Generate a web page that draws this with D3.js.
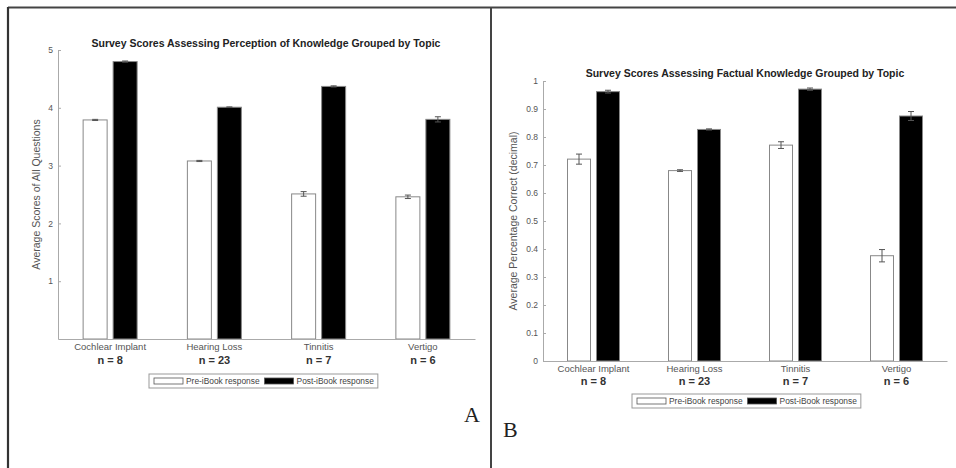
<!DOCTYPE html>
<html>
<head>
<meta charset="utf-8">
<script src="https://cdn.jsdelivr.net/npm/d3@7/dist/d3.min.js"></script>
<style>
  html, body { margin: 0; padding: 0; background: #fff; }
  svg { display: block; font-family: "Liberation Sans", Arial, sans-serif; }
</style>
</head>
<body>
<svg id="chart" width="956" height="468"></svg>
<script>
// ---------- DATA ----------
const categories = ["Cochlear Implant", "Hearing Loss", "Tinnitis", "Vertigo"];
const nLabels = ["n = 8", "n = 23", "n = 7", "n = 6"];
const seriesNames = ["Pre-iBook response", "Post-iBook response"];

const perceptionPre = [3.79, 3.08, 2.51, 2.46];
const perceptionPost = [4.80, 4.01, 4.37, 3.80];
const perceptionPreErr = [0.01, 0.01, 0.04, 0.03];
const perceptionPostErr = [0.01, 0.006, 0.01, 0.045];
const perceptionTicks = [1, 2, 3, 4, 5];

const factualPre = [0.721, 0.680, 0.771, 0.376];
const factualPost = [0.962, 0.827, 0.971, 0.875];
const factualPreErr = [0.018, 0.003, 0.012, 0.022];
const factualPostErr = [0.005, 0.002, 0.004, 0.016];
const factualTicks = [0, 0.1, 0.2, 0.3, 0.4, 0.5, 0.6, 0.7, 0.8, 0.9, 1];

const titles = [
  "Survey Scores Assessing Perception of Knowledge Grouped by Topic",
  "Survey Scores Assessing Factual Knowledge Grouped by Topic"
];
const yLabels = ["Average Scores of All Questions", "Average Percentage Correct (decimal)"];
const panelLetters = ["A", "B"];

// ---------- DRAW ----------
const svg = d3.select("#chart");

// frame lines
svg.append("line").attr("x1", 8).attr("x2", 956).attr("y1", 7.5).attr("y2", 7.5)
  .attr("stroke", "#444").attr("stroke-width", 2);
svg.append("line").attr("x1", 8).attr("x2", 8).attr("y1", 7).attr("y2", 468)
  .attr("stroke", "#333").attr("stroke-width", 2.2);
svg.append("line").attr("x1", 491).attr("x2", 491).attr("y1", 7).attr("y2", 468)
  .attr("stroke", "#444").attr("stroke-width", 2);

const panels = [
  {
    pre: perceptionPre, post: perceptionPost, preErr: perceptionPreErr, postErr: perceptionPostErr,
    ticks: perceptionTicks, domain: [0, 5], fmt: d3.format("d"),
    x0: 58, x1: 475, y0: 339, y1: 50, barW: 24, off: 15,
    title: titles[0], titleX: 266, titleY: 47, yLabel: yLabels[0], yLabelX: 40,
    catY: 350, nY: 364, legendX: 149, legendY: 374,
    letter: panelLetters[0], letterX: 464, letterY: 422
  },
  {
    pre: factualPre, post: factualPost, preErr: factualPreErr, postErr: factualPostErr,
    ticks: factualTicks, domain: [0, 1], fmt: d => d === 0 || d === 1 ? String(d) : d3.format(".1f")(d),
    x0: 543, x1: 947, y0: 361, y1: 81, barW: 23, off: 14.5,
    title: titles[1], titleX: 745, titleY: 77, yLabel: yLabels[1], yLabelX: 517,
    catY: 372, nY: 385, legendX: 632, legendY: 394,
    letter: panelLetters[1], letterX: 503, letterY: 437
  }
];

panels.forEach(p => {
  const g = svg.append("g");
  const x = d3.scaleBand().domain(categories).range([p.x0, p.x1]).padding(0);
  const y = d3.scaleLinear().domain(p.domain).range([p.y0, p.y1]);

  // bars
  const series = [
    { vals: p.pre, errs: p.preErr, fill: "#fff", dx: -p.off },
    { vals: p.post, errs: p.postErr, fill: "#000", dx: p.off }
  ];
  series.forEach(s => {
    g.selectAll(null).data(categories).enter().append("rect")
      .attr("x", (c) => x(c) + x.bandwidth() / 2 + s.dx - p.barW / 2)
      .attr("y", (c, i) => y(s.vals[i]))
      .attr("width", p.barW)
      .attr("height", (c, i) => y(p.domain[0]) - y(s.vals[i]))
      .attr("fill", s.fill)
      .attr("stroke", "#888").attr("stroke-width", 1);
    // error bars
    categories.forEach((c, i) => {
      const cx = x(c) + x.bandwidth() / 2 + s.dx;
      const yt = y(s.vals[i] + s.errs[i]), yb = y(s.vals[i] - s.errs[i]);
      const eb = g.append("g").attr("stroke", "#555").attr("stroke-width", 1);
      eb.append("line").attr("x1", cx).attr("x2", cx).attr("y1", yt).attr("y2", yb);
      eb.append("line").attr("x1", cx - 3).attr("x2", cx + 3).attr("y1", yt).attr("y2", yt);
      eb.append("line").attr("x1", cx - 3).attr("x2", cx + 3).attr("y1", yb).attr("y2", yb);
    });
  });

  // y axis
  const ya = g.append("g").attr("transform", `translate(${p.x0},0)`)
    .call(d3.axisLeft(y).tickValues(p.ticks).tickFormat(p.fmt).tickSize(-3).tickPadding(5).tickSizeOuter(0));
  ya.select(".domain").attr("stroke", "#aaa");
  ya.selectAll(".tick line").attr("stroke", "#aaa");
  ya.selectAll(".tick text").attr("fill", "#555").style("font-size", "8.5px")
    .style("font-family", "'Liberation Sans', Arial, sans-serif");

  // x axis
  const xa = g.append("g").attr("transform", `translate(0,${p.y0})`)
    .call(d3.axisBottom(x).tickSize(0).tickSizeOuter(0).tickFormat(""));
  xa.select(".domain").attr("stroke", "#aaa");

  // category labels
  g.selectAll(null).data(categories).enter().append("text")
    .attr("x", c => x(c) + x.bandwidth() / 2).attr("y", p.catY)
    .attr("text-anchor", "middle").attr("fill", "#555").style("font-size", "9.5px")
    .text(c => c);
  g.selectAll(null).data(categories).enter().append("text")
    .attr("x", c => x(c) + x.bandwidth() / 2).attr("y", p.nY)
    .attr("text-anchor", "middle").attr("fill", "#333").style("font-size", "11px")
    .style("font-weight", "bold")
    .text((c, i) => nLabels[i]);

  // title
  g.append("text").attr("x", p.titleX).attr("y", p.titleY)
    .attr("text-anchor", "middle").attr("fill", "#222").style("font-size", "10.5px")
    .style("font-weight", "bold").text(p.title);

  // y label
  g.append("text")
    .attr("transform", `translate(${p.yLabelX},${(p.y0 + p.y1) / 2}) rotate(-90)`)
    .attr("text-anchor", "middle").attr("fill", "#555").style("font-size", "10.5px")
    .text(p.yLabel);

  // legend
  const lg = g.append("g");
  const box = lg.append("rect").attr("x", p.legendX).attr("y", p.legendY).attr("height", 14)
    .attr("fill", "#fff").attr("stroke", "#999").attr("stroke-width", 1);
  let cx = p.legendX + 5;
  seriesNames.forEach((name, i) => {
    lg.append("rect").attr("x", cx).attr("y", p.legendY + 4).attr("width", 29).attr("height", 6)
      .attr("fill", i === 0 ? "#fff" : "#000").attr("stroke", "#555").attr("stroke-width", 0.8);
    cx += 32;
    const t = lg.append("text").attr("x", cx).attr("y", p.legendY + 10)
      .attr("fill", "#444").style("font-size", "8.4px").text(name);
    cx += t.node().getComputedTextLength() + 5;
  });
  box.attr("width", cx - p.legendX - 1);

  // panel letter
  g.append("text").attr("x", p.letterX).attr("y", p.letterY)
    .style("font-family", "'Liberation Serif', 'Times New Roman', serif")
    .style("font-size", "22px").attr("fill", "#222").text(p.letter);
});
</script>
</body>
</html>
